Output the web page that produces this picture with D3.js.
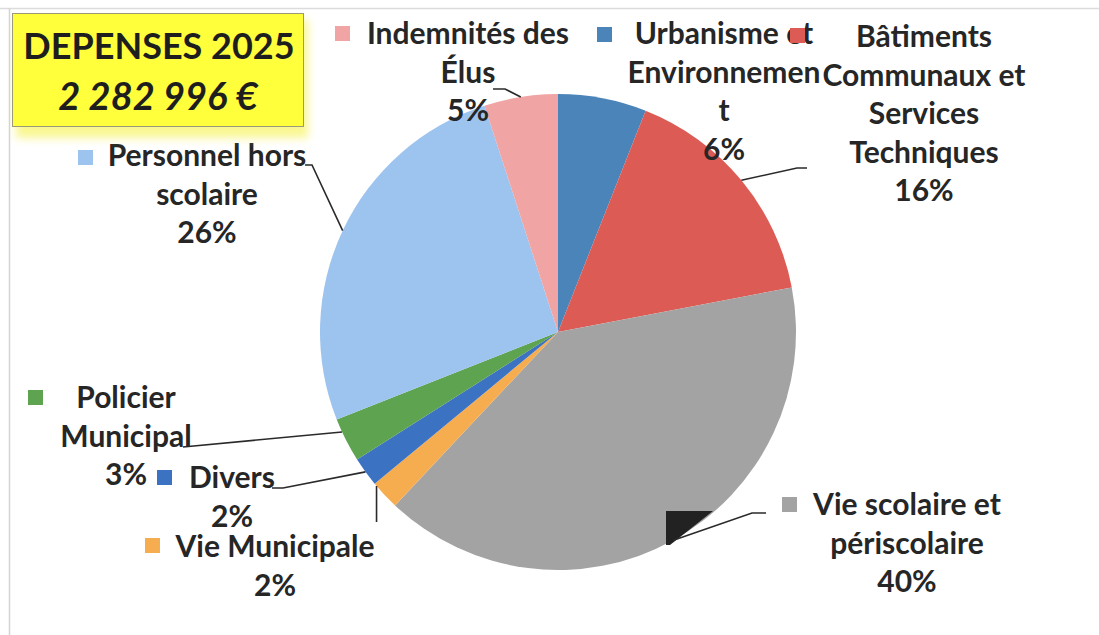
<!DOCTYPE html>
<html>
<head>
<meta charset="utf-8">
<script src="https://cdn.jsdelivr.net/npm/d3@7"></script>
<style>
  body { margin: 0; background: #fff; }
  svg { display: block; font-family: Lato, "Open Sans", sans-serif; }
</style>
</head>
<body>
<svg id="chart" width="1099" height="635"></svg>
<script>
// data
var categories = ["Urbanisme et Environnement", "Bâtiments Communaux et Services Techniques",
    "Vie scolaire et périscolaire", "Vie Municipale", "Divers", "Policier Municipal",
    "Personnel hors scolaire", "Indemnités des Élus"];
var values = [6, 16, 40, 2, 2, 3, 26, 5];
var labelLines = [
    ["Urbanisme et", "Environnemen", "t"],
    ["Bâtiments", "Communaux et", "Services", "Techniques"],
    ["Vie scolaire et", "périscolaire"],
    ["Vie Municipale"],
    ["Divers"],
    ["Policier", "Municipal"],
    ["Personnel hors", "scolaire"],
    ["Indemnités des", "Élus"]
];
var titleLines = ["DEPENSES 2025", "2 282 996 €"];

var colors = ["#4b84b8", "#dc5b55", "#a3a3a3", "#f6ad50", "#3c72c2", "#5ea34f", "#9dc3ef", "#f0a4a3"];

// layout for the labels (key square, text centre, first baseline, leader points)
var layout = [
    {key: [597, 27], cx: 724, y: 44, leader: null},
    {key: [790, 28], cx: 924, y: 47, leader: [[807, 168], [797, 168]], t: 0.5},
    {key: [782, 497], cx: 907, y: 515, leader: [[766, 513], [752, 513]], t: 0.5},
    {key: [145, 538], cx: 275, y: 557, leader: [[null, 522]], t: 0.9},
    {key: [157, 470], cx: 232, y: 488, leader: [[272, 488], [283, 488]], t: 0.5},
    {key: [28, 390], cx: 126, y: 408, leader: [[183, 447]], t: 0.7},
    {key: [78, 150], cx: 207, y: 166, leader: [[305, 165], [312, 165]], t: 0.5},
    {key: [335, 26], cx: 468, y: 44, leader: [[493, 89], [505, 89]], t: 0.5}
];

var cx = 558, cy = 332, radius = 238, lineH = 38.5;
var formatPercent = d3.format(".0%");
var total = d3.sum(values);

var svg = d3.select("#chart");

// frame lines from the scan
svg.append("line").attr("x1", 0).attr("x2", 1099).attr("y1", 8.5).attr("y2", 8.5)
    .attr("stroke", "#dcdcdc").attr("stroke-width", 1.5);
svg.append("line").attr("x1", 9.5).attr("x2", 9.5).attr("y1", 8).attr("y2", 635)
    .attr("stroke", "#d4d4d4").attr("stroke-width", 1.5);

// pie
var pie = d3.pie().sort(null).value(function (d) { return d; });
var arcs = pie(values);
var arc = d3.arc().innerRadius(0).outerRadius(radius);

var g = svg.append("g").attr("transform", "translate(" + cx + "," + cy + ")");
g.selectAll("path")
    .data(arcs)
    .enter()
    .append("path")
    .attr("d", arc)
    .attr("fill", function (d, i) { return colors[i]; });

// black scanning artefact near the bottom right of the pie
svg.append("path")
    .attr("d", "M666,511 L713,511 L670,545 L666,545 Z")
    .attr("fill", "#222");

// leader lines
arcs.forEach(function (a, i) {
    var L = layout[i];
    if (!L.leader) return;
    var ang = a.startAngle + (a.endAngle - a.startAngle) * L.t;
    var px = cx + radius * Math.sin(ang), py = cy - radius * Math.cos(ang);
    var pts = L.leader.map(function (p) { return [p[0] === null ? px : p[0], p[1]]; });
    pts.push([px, py]);
    svg.append("path")
        .attr("d", d3.line()(pts))
        .attr("fill", "none")
        .attr("stroke", "#2a2a2a")
        .attr("stroke-width", 1.6);
});

// labels
categories.forEach(function (c, i) {
    var L = layout[i];
    svg.append("rect")
        .attr("x", L.key[0]).attr("y", L.key[1])
        .attr("width", 15).attr("height", 15)
        .attr("fill", colors[i]);
    var lines = labelLines[i].concat([formatPercent(values[i] / total)]);
    var t = svg.append("text")
        .attr("text-anchor", "middle")
        .attr("font-size", 30)
        .attr("font-weight", "bold")
        .attr("fill", "#262626");
    lines.forEach(function (s, k) {
        t.append("tspan").attr("x", L.cx).attr("y", L.y + k * lineH).text(s);
    });
});

// title box
var defs = svg.append("defs");
var f = defs.append("filter").attr("id", "glow").attr("x", "-10%").attr("y", "-10%")
    .attr("width", "120%").attr("height", "140%");
f.append("feGaussianBlur").attr("stdDeviation", 4);

svg.append("rect").attr("x", 16).attr("y", 20).attr("width", 292).attr("height", 118)
    .attr("fill", "#f6f24a").attr("opacity", 0.6).attr("filter", "url(#glow)");
svg.append("rect").attr("x", 12.5).attr("y", 13.5).attr("width", 291).attr("height", 113)
    .attr("fill", "#ffff3c").attr("stroke", "#9a9a7a").attr("stroke-width", 1);

svg.append("text")
    .attr("x", 159).attr("y", 59)
    .attr("text-anchor", "middle")
    .attr("font-size", 36).attr("font-weight", "bold").attr("fill", "#1e1e1e")
    .text(titleLines[0]);
svg.append("text")
    .attr("x", 158).attr("y", 110)
    .attr("text-anchor", "middle")
    .attr("font-size", 38).attr("font-weight", "bold").attr("font-style", "italic")
    .attr("fill", "#1e1e1e")
    .text(titleLines[1]);
</script>
</body>
</html>
